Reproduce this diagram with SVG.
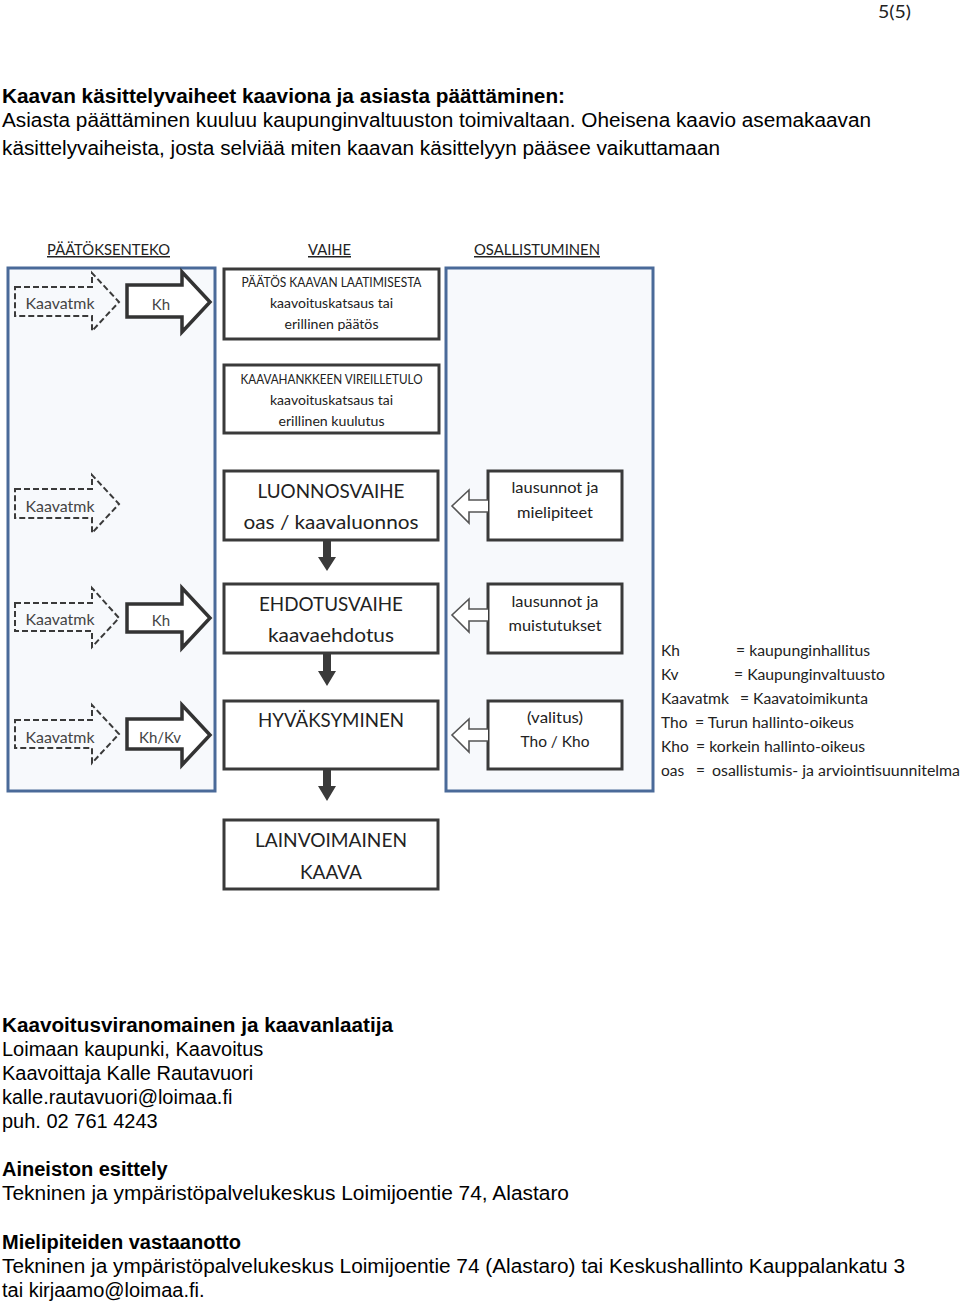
<svg xmlns="http://www.w3.org/2000/svg" width="960" height="1304" viewBox="0 0 960 1304">
<defs>
<style>
.doc{font-family:"Liberation Sans",Arial,sans-serif;font-size:20px;fill:#000}
.b{font-weight:bold}
.cal{font-family:Lato,"Open Sans",sans-serif;fill:#222}
.hdr{font-size:15px;text-decoration:underline}
.panel{fill:#f7f9fc;stroke:#4a6a99;stroke-width:3}
.box{fill:#fff;stroke:#3a3a3a;stroke-width:3}
.dash{fill:none;stroke:#3a3a3a;stroke-width:2;stroke-dasharray:6 3}
.solid{fill:#fff;stroke:#333;stroke-width:3.5;stroke-linejoin:miter}
.hollow{fill:#fff;stroke:#555;stroke-width:1.6}
.down{fill:#3a3a3a}
.lbl{font-size:15px;fill:#444;text-anchor:middle}
.bx{text-anchor:middle;fill:#222}
.leg{font-size:15.5px;fill:#222}
</style>
</defs>
<rect width="960" height="1304" fill="#fff"/>

<text class="cal" x="878" y="18" font-size="17" textLength="33" lengthAdjust="spacingAndGlyphs">5(5)</text>

<g id="intro">
<text class="doc b" x="2" y="103" textLength="563" lengthAdjust="spacingAndGlyphs">Kaavan käsittelyvaiheet kaaviona ja asiasta päättäminen:</text>
<text class="doc" x="2" y="127" textLength="869" lengthAdjust="spacingAndGlyphs">Asiasta päättäminen kuuluu kaupunginvaltuuston toimivaltaan. Oheisena kaavio asemakaavan</text>
<text class="doc" x="2" y="155" textLength="718" lengthAdjust="spacingAndGlyphs">käsittelyvaiheista, josta selviää miten kaavan käsittelyyn pääsee vaikuttamaan</text>
</g>

<g id="headers">
<text class="cal hdr" x="47" y="255" textLength="123" lengthAdjust="spacingAndGlyphs">PÄÄTÖKSENTEKO</text>
<text class="cal hdr" x="308" y="255" textLength="43" lengthAdjust="spacingAndGlyphs">VAIHE</text>
<text class="cal hdr" x="474" y="255" textLength="126" lengthAdjust="spacingAndGlyphs">OSALLISTUMINEN</text>
</g>

<g id="panel-left"><rect class="panel" x="8" y="268" width="207" height="523"/></g>
<g id="panel-right"><rect class="panel" x="446" y="268" width="207" height="523"/></g>

<g id="box-paatos">
<rect class="box" x="224" y="269" width="215" height="70"/>
<text class="cal bx" x="331.5" y="287" font-size="12.5" textLength="180" lengthAdjust="spacingAndGlyphs">PÄÄTÖS KAAVAN LAATIMISESTA</text>
<text class="cal bx" x="331.5" y="308" font-size="13.5" textLength="123" lengthAdjust="spacingAndGlyphs">kaavoituskatsaus tai</text>
<text class="cal bx" x="331.5" y="329" font-size="13.5" textLength="94" lengthAdjust="spacingAndGlyphs">erillinen päätös</text>
</g>

<g id="box-vireilletulo">
<rect class="box" x="224" y="365" width="215" height="68"/>
<text class="cal bx" x="331.5" y="384" font-size="12.5" textLength="182" lengthAdjust="spacingAndGlyphs">KAAVAHANKKEEN VIREILLETULO</text>
<text class="cal bx" x="331.5" y="405" font-size="13.5" textLength="123" lengthAdjust="spacingAndGlyphs">kaavoituskatsaus tai</text>
<text class="cal bx" x="331.5" y="426" font-size="13.5" textLength="106" lengthAdjust="spacingAndGlyphs">erillinen kuulutus</text>
</g>

<g id="box-luonnos">
<rect class="box" x="224" y="471" width="214" height="69"/>
<text class="cal bx" x="331" y="498" font-size="19" textLength="147" lengthAdjust="spacingAndGlyphs">LUONNOSVAIHE</text>
<text class="cal bx" x="331" y="529" font-size="19" textLength="175" lengthAdjust="spacingAndGlyphs">oas / kaavaluonnos</text>
</g>

<g id="box-ehdotus">
<rect class="box" x="224" y="584" width="214" height="69"/>
<text class="cal bx" x="331" y="611" font-size="19" textLength="144" lengthAdjust="spacingAndGlyphs">EHDOTUSVAIHE</text>
<text class="cal bx" x="331" y="642" font-size="19" textLength="126" lengthAdjust="spacingAndGlyphs">kaavaehdotus</text>
</g>

<g id="box-hyvaksyminen">
<rect class="box" x="224" y="701" width="214" height="68"/>
<text class="cal bx" x="331" y="727" font-size="19" textLength="146" lengthAdjust="spacingAndGlyphs">HYVÄKSYMINEN</text>
</g>

<g id="box-lainvoimainen">
<rect class="box" x="224" y="820" width="214" height="69"/>
<text class="cal bx" x="331" y="847" font-size="19" textLength="152" lengthAdjust="spacingAndGlyphs">LAINVOIMAINEN</text>
<text class="cal bx" x="331" y="879" font-size="19" textLength="62" lengthAdjust="spacingAndGlyphs">KAAVA</text>
</g>

<g id="box-mielipiteet">
<rect class="box" x="488" y="471" width="134" height="69"/>
<text class="cal bx" x="555" y="493" font-size="15" textLength="87" lengthAdjust="spacingAndGlyphs">lausunnot ja</text>
<text class="cal bx" x="555" y="518" font-size="15" textLength="76" lengthAdjust="spacingAndGlyphs">mielipiteet</text>
</g>

<g id="box-muistutukset">
<rect class="box" x="488" y="584" width="134" height="69"/>
<text class="cal bx" x="555" y="607" font-size="15" textLength="87" lengthAdjust="spacingAndGlyphs">lausunnot ja</text>
<text class="cal bx" x="555" y="631" font-size="15" textLength="93" lengthAdjust="spacingAndGlyphs">muistutukset</text>
</g>

<g id="box-valitus">
<rect class="box" x="488" y="701" width="134" height="68"/>
<text class="cal bx" x="555" y="723" font-size="15" textLength="56" lengthAdjust="spacingAndGlyphs">(valitus)</text>
<text class="cal bx" x="555" y="747" font-size="15" textLength="69" lengthAdjust="spacingAndGlyphs">Tho / Kho</text>
</g>

<g id="decisions">
<g id="row1">
<path class="dash" d="M15,287 H92 V273 L119,302 L92,331 V316 H15 Z"/>
<text class="cal lbl" x="60" y="309" textLength="69" lengthAdjust="spacingAndGlyphs">Kaavatmk</text>
<path class="solid" d="M127,285 H182 V272 L210,302 L182,332 V317 H127 Z"/>
<text class="cal lbl" x="161" y="310">Kh</text>
</g>
<g id="row2">
<path class="dash" d="M15,489 H92 V475 L119,504 L92,533 V518 H15 Z"/>
<text class="cal lbl" x="60" y="512" textLength="69" lengthAdjust="spacingAndGlyphs">Kaavatmk</text>
</g>
<g id="row3">
<path class="dash" d="M15,603 H92 V588 L119,618 L92,647 V631 H15 Z"/>
<text class="cal lbl" x="60" y="625" textLength="69" lengthAdjust="spacingAndGlyphs">Kaavatmk</text>
<path class="solid" d="M127,604 H182 V588 L210,618 L182,648 V632 H127 Z"/>
<text class="cal lbl" x="161" y="626">Kh</text>
</g>
<g id="row4">
<path class="dash" d="M15,720 H92 V705 L119,734 L92,763 V748 H15 Z"/>
<text class="cal lbl" x="60" y="743" textLength="69" lengthAdjust="spacingAndGlyphs">Kaavatmk</text>
<path class="solid" d="M127,719 H182 V705 L210,735 L182,765 V749 H127 Z"/>
<text class="cal lbl" x="160" y="743" textLength="42" lengthAdjust="spacingAndGlyphs">Kh/Kv</text>
</g>
</g>

<g id="connectors">
<path class="down" d="M323,540 V557 H318 L327,571 L336,557 H331 V540 Z"/>
<path class="down" d="M323,653 V671 H318 L327,686 L336,671 H331 V653 Z"/>
<path class="down" d="M323,769 V786 H318 L327,801 L336,786 H331 V769 Z"/>
<path class="hollow" d="M488,500 H469 V490 L452,506 L469,523 V512 H488"/>
<path class="hollow" d="M488,609 H469 V599 L452,615 L469,632 V621 H488"/>
<path class="hollow" d="M488,729 H469 V719 L452,735 L469,752 V741 H488"/>
</g>

<g id="legend">
<text class="cal leg" x="661" y="656">Kh</text><text class="cal leg" x="736" y="656" textLength="134" lengthAdjust="spacingAndGlyphs">= kaupunginhallitus</text>
<text class="cal leg" x="661" y="680">Kv</text><text class="cal leg" x="734" y="680" textLength="151" lengthAdjust="spacingAndGlyphs">= Kaupunginvaltuusto</text>
<text class="cal leg" x="661" y="704" textLength="68" lengthAdjust="spacingAndGlyphs">Kaavatmk</text><text class="cal leg" x="740" y="704" textLength="128" lengthAdjust="spacingAndGlyphs">= Kaavatoimikunta</text>
<text class="cal leg" x="661" y="728">Tho</text><text class="cal leg" x="695" y="728" textLength="159" lengthAdjust="spacingAndGlyphs">= Turun hallinto-oikeus</text>
<text class="cal leg" x="661" y="752">Kho</text><text class="cal leg" x="696" y="752" textLength="169" lengthAdjust="spacingAndGlyphs">= korkein hallinto-oikeus</text>
<text class="cal leg" x="661" y="776">oas</text><text class="cal leg" x="696" y="776">=</text><text class="cal leg" x="712" y="776" textLength="248" lengthAdjust="spacingAndGlyphs">osallistumis- ja arviointisuunnitelma</text>
</g>

<g id="contact">
<text class="doc b" x="2" y="1032" textLength="391" lengthAdjust="spacingAndGlyphs">Kaavoitusviranomainen ja kaavanlaatija</text>
<text class="doc" x="2" y="1056">Loimaan kaupunki, Kaavoitus</text>
<text class="doc" x="2" y="1080">Kaavoittaja Kalle Rautavuori</text>
<text class="doc" x="2" y="1104">kalle.rautavuori@loimaa.fi</text>
<text class="doc" x="2" y="1128">puh. 02 761 4243</text>
<text class="doc b" x="2" y="1176">Aineiston esittely</text>
<text class="doc" x="2" y="1200" textLength="567" lengthAdjust="spacingAndGlyphs">Tekninen ja ympäristöpalvelukeskus Loimijoentie 74, Alastaro</text>
<text class="doc b" x="2" y="1249">Mielipiteiden vastaanotto</text>
<text class="doc" x="2" y="1273" textLength="903" lengthAdjust="spacingAndGlyphs">Tekninen ja ympäristöpalvelukeskus Loimijoentie 74 (Alastaro) tai Keskushallinto Kauppalankatu 3</text>
<text class="doc" x="2" y="1297">tai kirjaamo@loimaa.fi.</text>
</g>
</svg>
